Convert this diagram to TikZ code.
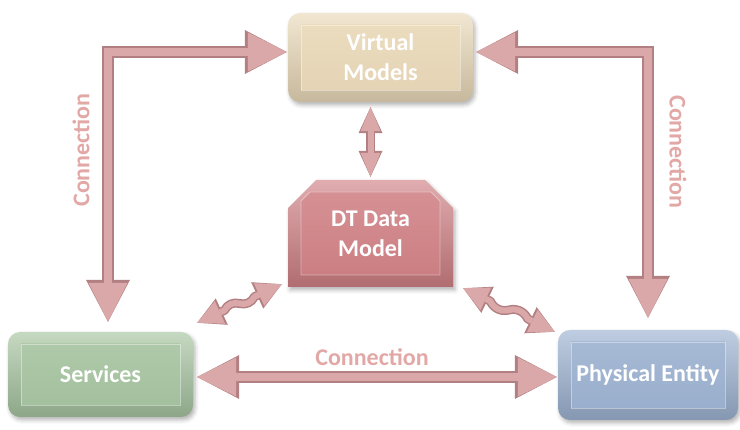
\documentclass[tikz,border=0pt]{standalone}
\usepackage{fontspec}
\setmainfont{Carlito}
\usetikzlibrary{arrows.meta,calc,shapes.misc,shadows.blur}

\definecolor{vmcol}{RGB}{234,217,184}
\definecolor{dtcol}{RGB}{208,128,132}
\definecolor{svcol}{RGB}{166,196,160}
\definecolor{pecol}{RGB}{156,178,209}
\definecolor{linkfill}{RGB}{218,168,168}
\definecolor{linkrim}{RGB}{178,128,130}
\definecolor{labelcol}{RGB}{226,168,166}

% arrow heads: a darker rim drawn first, a lighter head on top
\tikzset{
  rimhead/.tip={Triangle[length=42pt,width=44pt,line width=0pt]},
  fillhead/.tip={Triangle[length=39pt,width=39pt,line width=0pt]},
  srimhead/.tip={Triangle[length=26pt,width=24pt,line width=0pt]},
  sfillhead/.tip={Triangle[length=24pt,width=20pt,line width=0pt]},
  wrimhead/.tip={Triangle[length=27pt,width=29pt,line width=0pt]},
  wfillhead/.tip={Triangle[length=25pt,width=25pt,line width=0pt]},
  big rim/.style={draw=linkrim, line width=11.5pt, line join=miter, arrows={rimhead-rimhead}},
  big fill/.style={draw=linkfill, line width=8pt, line join=miter, arrows={fillhead-fillhead}},
  small rim/.style={draw=linkrim, line width=9pt, arrows={srimhead-srimhead}},
  small fill/.style={draw=linkfill, line width=6pt, arrows={sfillhead-sfillhead}},
  wave rim/.style={draw=linkrim, line width=9pt, line join=round, arrows={wrimhead-wrimhead}},
  wave fill/.style={draw=linkfill, line width=6pt, line join=round, arrows={wfillhead-wfillhead}},
  boxtext/.style={align=center, text=white, font=\bfseries\fontsize{24}{30}\selectfont},
  softshadow/.style={blur shadow={shadow xshift=2pt, shadow yshift=-3pt, shadow blur radius=4pt, shadow opacity=30}},
  innerline/.style={sharp corners, draw=white, draw opacity=0.4, line width=0.8pt},
  box/.style={rectangle, rounded corners=12pt, inner sep=0pt, boxtext, softshadow,
    top color=#1!65!white, bottom color=#1!85!black,
    path picture={\draw[innerline, top color=#1!88!white, bottom color=#1!97!black]
      ([shift={(13pt,12pt)}]path picture bounding box.south west) rectangle
      ([shift={(-13pt,-12pt)}]path picture bounding box.north east);}},
  chambox/.style={chamfered rectangle, chamfered rectangle corners={north west,north east},
    chamfered rectangle xsep=14pt, chamfered rectangle ysep=14pt, inner sep=0pt, boxtext, softshadow,
    top color=#1!65!white, bottom color=#1!85!black,
    path picture={\draw[innerline, top color=#1!85!white, bottom color=#1!97!black]
      ([shift={(13pt,12pt)}]path picture bounding box.south west) --
      ([shift={(-13pt,12pt)}]path picture bounding box.south east) --
      ([shift={(-13pt,-21pt)}]path picture bounding box.north east) --
      ([shift={(-22pt,-12pt)}]path picture bounding box.north east) --
      ([shift={(22pt,-12pt)}]path picture bounding box.north west) --
      ([shift={(13pt,-21pt)}]path picture bounding box.north west) -- cycle;}},
  linklabel/.style={text=labelcol, font=\bfseries\fontsize{24}{28}\selectfont, inner sep=0pt},
}

\newcommand\twopass[2]{\draw[#1 rim] #2; \draw[#1 fill] #2;}

\begin{document}
\begin{tikzpicture}[x=1pt,y=1pt]
  \path[use as bounding box] (0,0) rectangle (740,429);

  % the four components
  \node[box=vmcol, minimum width=185pt, minimum height=89pt] (vm) at (380.5,371.5) {Virtual\\Models};
  \node[chambox=dtcol, minimum width=165pt, minimum height=107pt] (dt) at (370.5,195.5) {DT Data\\Model};
  \node[box=svcol, minimum width=185pt, minimum height=85pt] (serv) at (100.5,54.5) {Services};
  \node[box=pecol, minimum width=180pt, minimum height=90pt] (pe) at (648,54) {Physical Entity};

  % corners of the two outer connections
  \coordinate (cl) at (108,377);
  \coordinate (cr) at (648,377);

  % ends of the two wavy links
  \coordinate (w1a) at ($(serv.north east)+(4,9)$);
  \coordinate (w1b) at ($(dt.south west)+(-6,3)$);
  \coordinate (w2a) at ($(dt.south east)+(10,-1)$);
  \coordinate (w2b) at ($(pe.north west)+(-3,-2)$);

  % connectors
  \twopass{big}{($(serv.north -| cl)+(0,10)$) -- (cl) -- ($(vm.west |- cl)+(-1,0)$)}
  \twopass{big}{($(pe.north -| cr)+(0,12)$) -- (cr) -- ($(vm.east |- cr)+(3,0)$)}
  \twopass{big}{($(serv.east)+(4,-2.5)$) -- ($(serv.east -| pe.west)+(-1,-2.5)$)}
  \twopass{small}{($(dt.north)+(0,3)$) -- ($(vm.south -| dt.north)+(0,-5)$)}
  \twopass{wave}{(w1a) -- ($(w1a)!30pt!(w1b)$) to[bend left=40] ($(w1a)!0.5!(w1b)$) to[bend right=40] ($(w1b)!30pt!(w1a)$) -- (w1b)}
  \twopass{wave}{(w2a) -- ($(w2a)!30pt!(w2b)$) to[bend right=40] ($(w2a)!0.5!(w2b)$) to[bend left=40] ($(w2b)!30pt!(w2a)$) -- (w2b)}

  % connection labels
  \node[linklabel] (lb) at (372,72) {Connection};
  \node[linklabel, rotate=90] (ll) at (81,279) {Connection};
  \node[linklabel, rotate=-90] (lr) at (678,277) {Connection};
\end{tikzpicture}
\end{document}
